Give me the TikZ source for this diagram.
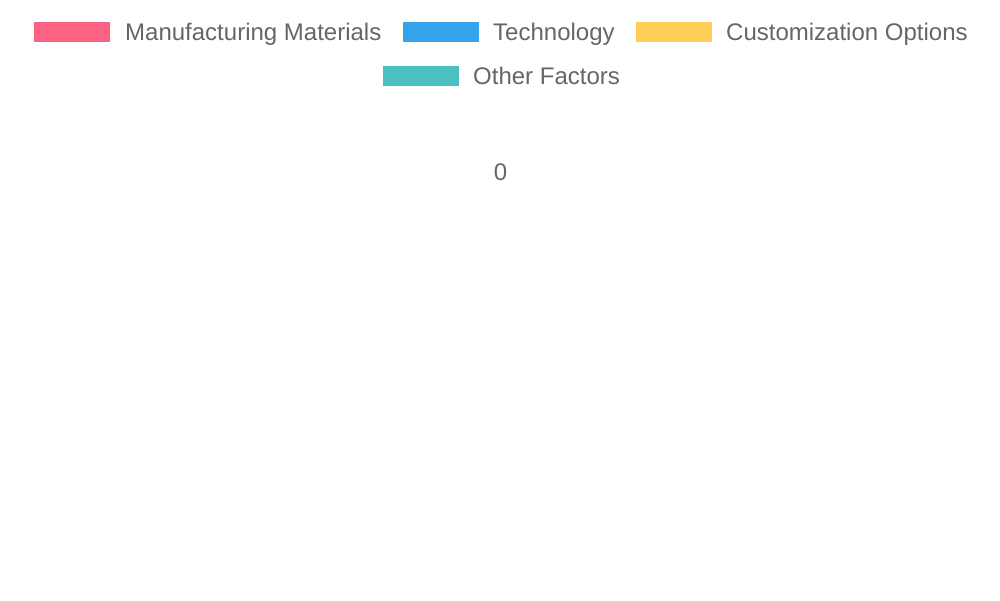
\documentclass[tikz,border=0pt]{standalone}
\usepackage{fontspec}
\setmainfont{Liberation Sans}
\begin{document}
\begin{tikzpicture}[x=1pt,y=-1pt,
  swatch/.style={draw=none,minimum width=76pt,minimum height=20pt,inner sep=0pt},
  lbl/.style={anchor=base west,inner sep=0pt,text=txtgray,font=\fontsize{24pt}{28pt}\selectfont}]
\definecolor{txtgray}{HTML}{666666}
\definecolor{cpink}{HTML}{FF6384}
\definecolor{cblue}{HTML}{36A2EB}
\definecolor{cyellow}{HTML}{FFCE56}
\definecolor{cteal}{HTML}{4BC0C0}
\useasboundingbox[fill=white] (0,0) rectangle (1000,600);
\node[swatch,fill=cpink] (s1) at (72,32) {};
\node[lbl] (l1) at (125,40.6) {Manufacturing Materials};
\node[swatch,fill=cblue] (s2) at (440.5,32) {};
\node[lbl] (l2) at (493,40.6) {Technology};
\node[swatch,fill=cyellow] (s3) at (673.5,32) {};
\node[lbl] (l3) at (726,40.6) {Customization Options};
\node[swatch,fill=cteal] (s4) at (420.5,76) {};
\node[lbl] (l4) at (473,84.6) {Other Factors};
\node[anchor=base,inner sep=0pt,text=txtgray,font=\fontsize{24pt}{28pt}\selectfont] (zero) at (500.5,180.6) {0};
\end{tikzpicture}
\end{document}
